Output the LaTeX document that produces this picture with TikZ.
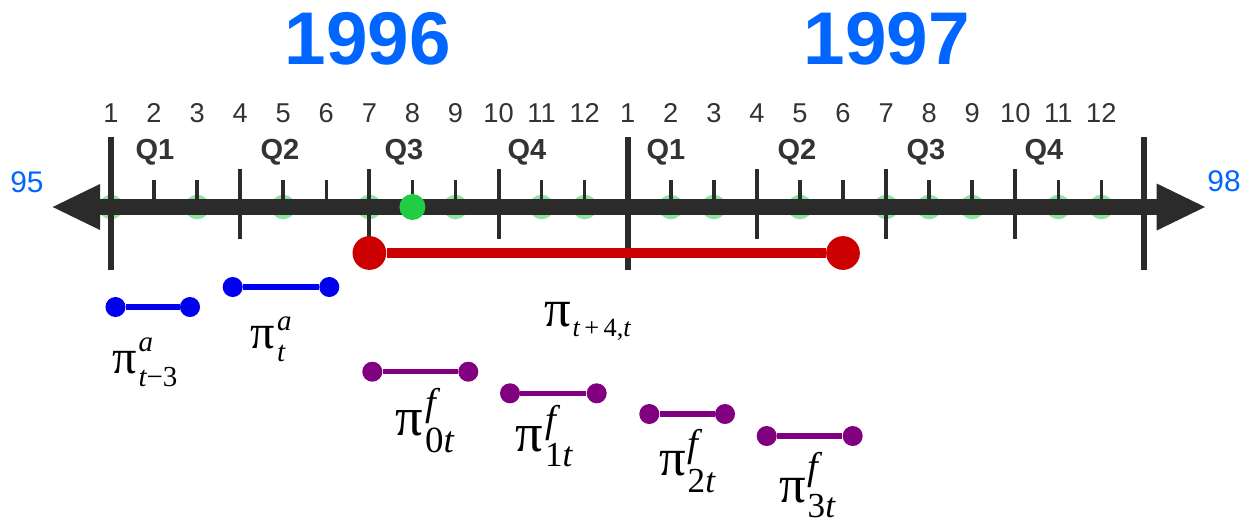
\documentclass[tikz,border=0pt]{standalone}
\usepackage{fontspec}
\setmainfont{Liberation Sans}
\newfontfamily\greekserif{Liberation Serif}

\definecolor{yearblue}{HTML}{0066FF}
\definecolor{axisgray}{HTML}{2B2B2B}
\definecolor{labelgray}{HTML}{333333}
\definecolor{spanred}{HTML}{CC0000}
\definecolor{dotgreen}{HTML}{22CC44}
\definecolor{actualblue}{HTML}{0000EE}
\definecolor{fcpurple}{HTML}{800080}

% pi with raised and lowered scripts
\newcommand\PIsym[1]{{\greekserif\fontsize{#1}{#1}\selectfont π}\kern1pt}
\newcommand\SUPs[3]{\rlap{\raisebox{#2}{\greekserif\itshape\fontsize{#1}{#1}\selectfont #3}}}
\newcommand\SUBs[3]{\raisebox{-#2}{\greekserif\itshape\fontsize{#1}{#1}\selectfont #3}}
\newcommand\UP[1]{{\upshape #1}}

\begin{document}
\begin{tikzpicture}[x=0.02cm,y=-0.02cm,
  yearlbl/.style={text=yearblue,font=\bfseries\fontsize{42.5}{42.5}\selectfont,inner sep=0pt},
  endlbl/.style={text=yearblue,font=\fontsize{17}{17}\selectfont,inner sep=0pt},
  monthnum/.style={text=labelgray,font=\fontsize{15.5}{15.5}\selectfont,inner sep=0pt},
  quarter/.style={text=labelgray,font=\bfseries\fontsize{16.5}{16.5}\selectfont,inner sep=0pt},
  yearline/.style={axisgray,line width=3.4pt},
  qtick/.style={axisgray,line width=2.3pt},
  mtick/.style={axisgray,line width=2pt},
  faintdot/.style={fill=dotgreen,opacity=0.5},
  spanline/.style={spanred,line width=6.2pt},
  spandot/.style={circle,fill=spanred,minimum size=19.2pt,inner sep=0pt},
  actline/.style={actualblue,line width=3.1pt},
  actdot/.style={circle,fill=actualblue,minimum size=11.4pt,inner sep=0pt},
  fcline/.style={fcpurple,line width=3.1pt},
  fcdot/.style={circle,fill=fcpurple,minimum size=11.4pt,inner sep=0pt},
  pilbl/.style={anchor=base west,inner sep=0pt,text=black}]
\useasboundingbox (0,0) rectangle (1251,522);

% month positions along the axis
\foreach \i in {0,...,24}{
  \coordinate (m\i) at ({111+43.06*\i},207);
}

% years and end labels
\node[yearlbl] (y96) at (368,39) {1996};
\node[yearlbl] (y97) at (887,39) {1997};
\node[endlbl] (e95) at (27,182) {95};
\node[endlbl] (e98) at (1224,181) {98};

% month numbers
\foreach \i [evaluate=\i as \n using {int(mod(\i,12)+1)}] in {0,...,23}{
  \node[monthnum] (n\i) at ({111+43.06*\i},113) {\n};
}

% quarter labels
\node[quarter] (qa1) at (155,152) {Q1};
\node[quarter] (qa2) at (280,152) {Q2};
\node[quarter] (qa3) at (404,152) {Q3};
\node[quarter] (qa4) at (527,152) {Q4};
\node[quarter] (qb1) at (666,152) {Q1};
\node[quarter] (qb2) at (797,152) {Q2};
\node[quarter] (qb3) at (926,152) {Q3};
\node[quarter] (qb4) at (1044,152) {Q4};

% faint markers behind the axis
\foreach \i in {0,2,4,6,8,10,11,13,14,16,18,19,20,22,23}{
  \fill[faintdot] (m\i) circle (7pt);
}

% axis with arrowheads
\draw[axisgray,line width=9.5pt] (100,207) -- (1157,207);
\fill[axisgray] (52.7,207) -- (100,184) -- (100,230) -- cycle;
\fill[axisgray] (1205,207) -- (1156.7,183.5) -- (1156.7,230.5) -- cycle;

% month ticks
\foreach \i in {1,2,4,5,7,8,10,11,13,14,16,17,19,20,22,23}{
  \draw[mtick] ({111+43.06*\i},180) -- ({111+43.06*\i},207);
}
% quarter ticks
\foreach \i in {3,6,9,15,18,21}{
  \draw[qtick] ({111+43.06*\i},169) -- ({111+43.06*\i},239);
}
% year boundaries
\foreach \i in {0,12,24}{
  \draw[yearline] ({111+43.06*\i},137) -- ({111+43.06*\i},270);
}

% current month
\fill[dotgreen] (m7) circle (7.4pt);

% span t to t+4
\node[spandot] (ra) at (369.4,253) {};
\node[spandot] (rb) at (843,253) {};
\draw[spanline] (ra) -- (rb);

% actual inflation intervals
\node[actdot] (a1) at (115.5,307) {};
\node[actdot] (a2) at (190,307) {};
\draw[actline] (a1) -- (a2);
\node[actdot] (b1) at (232.7,287) {};
\node[actdot] (b2) at (329.3,287) {};
\draw[actline] (b1) -- (b2);

% forecast intervals
\node[fcdot] (f0a) at (372.3,371.7) {};
\node[fcdot] (f0b) at (468.3,371.7) {};
\draw[fcline] (f0a) -- (f0b);
\node[fcdot] (f1a) at (510,393.3) {};
\node[fcdot] (f1b) at (596.7,393.3) {};
\draw[fcline] (f1a) -- (f1b);
\node[fcdot] (f2a) at (649.3,414) {};
\node[fcdot] (f2b) at (725,414) {};
\draw[fcline] (f2a) -- (f2b);
\node[fcdot] (f3a) at (766.7,436) {};
\node[fcdot] (f3b) at (852.7,436) {};
\draw[fcline] (f3a) -- (f3b);

% pi labels
\node[pilbl] (la) at (112,373.3) {\PIsym{27.5}\SUPs{16.5}{12.3pt}{a}\SUBs{16.5}{7.4pt}{t\UP{−3}}};
\node[pilbl] (lb) at (250.5,348.3) {\PIsym{27.5}\SUPs{16.5}{10.2pt}{a}\SUBs{16.5}{7.6pt}{t}};
\node[pilbl] (lc) at (544,326.7) {\PIsym{30}\SUBs{15}{5.6pt}{t\,\UP{+}\,\UP{4,}t}};
\node[pilbl] (ld) at (395.5,435) {\PIsym{31}\SUPs{22}{11.3pt}{f}\SUBs{21}{10.2pt}{\UP{0}t}};
\node[pilbl] (le) at (515.5,451.7) {\PIsym{31}\SUPs{22}{10.8pt}{f}\SUBs{20}{8.5pt}{\UP{1}t}};
\node[pilbl] (lf) at (659,475) {\PIsym{30}\SUPs{22}{10.8pt}{f}\SUBs{20}{10pt}{\UP{2}t}};
\node[pilbl] (lg) at (779,502) {\PIsym{30}\SUPs{22}{13pt}{f}\SUBs{20}{8.6pt}{\UP{3}t}};
\end{tikzpicture}
\end{document}
